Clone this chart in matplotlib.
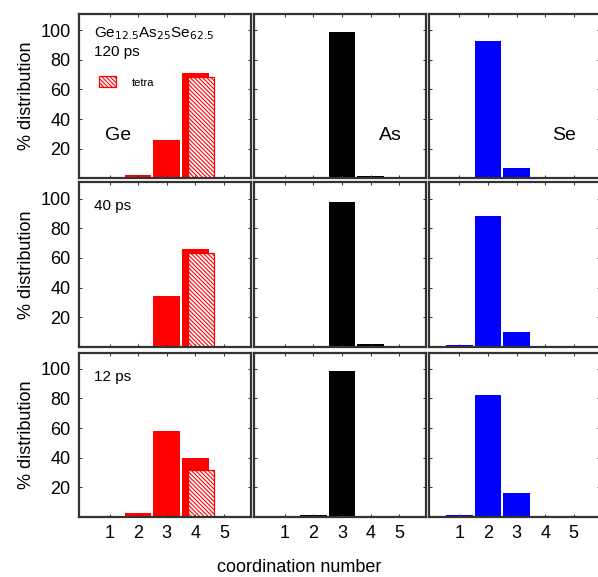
import matplotlib
matplotlib.use("Agg")
import matplotlib.pyplot as plt
from matplotlib.patches import Patch

plt.rcParams['font.family'] = ['Liberation Sans', 'DejaVu Sans']
plt.rcParams['hatch.linewidth'] = 0.8

coord = [1, 2, 3, 4, 5]
times = ["120 ps", "40 ps", "12 ps"]
species = ["Ge", "As", "Se"]
colors = ["#ff0000", "#000000", "#0000ff"]

# % distribution of coordination numbers, per time (rows) and species (cols)
ge_120 = [0, 2, 26, 71, 0]
as_120 = [0, 0, 98.5, 1.5, 0]
se_120 = [1, 92.5, 7, 0, 0]
ge_40 = [0, 0, 34, 66, 0]
as_40 = [0, 0, 97.5, 2, 0]
se_40 = [1.5, 88, 10, 0, 0]
ge_12 = [0, 2.5, 58, 39.5, 0]
as_12 = [0, 1.5, 98.5, 0, 0]
se_12 = [1.5, 82.5, 16, 0, 0]
# tetrahedral Ge fraction at coordination 4
tetra = [68.5, 63, 31.5]

data = [[ge_120, as_120, se_120],
        [ge_40, as_40, se_40],
        [ge_12, as_12, se_12]]

hatch = '\\' * 8

fig = plt.figure(figsize=(5.98, 5.77), dpi=100)

lefts = [0.132, 0.425, 0.717]
bottoms = [0.691, 0.399, 0.104]
w, h = 0.287, 0.285
time_y = [0.745, 0.83, 0.83]

for r in range(3):
    for c in range(3):
        ax = fig.add_axes([lefts[c], bottoms[r], w, h])
        ax.bar(coord, data[r][c], width=0.93, color=colors[c], edgecolor='none')
        if c == 0:
            ax.bar(4.2, tetra[r], width=0.88, facecolor='white', edgecolor='#ff0000',
                   hatch=hatch, linewidth=0.9)
        ax.set_xlim(-0.07, 5.93)
        ax.set_ylim(0, 111)
        ax.set_xticks(coord)
        ax.set_yticks([20, 40, 60, 80, 100])
        ax.tick_params(direction='in', length=2.5, width=0.7, top=True, right=True,
                       labelsize=13, colors='#333333', labelcolor='black', pad=6)
        for s in ax.spines.values():
            s.set_linewidth(1.6)
            s.set_color('#333333')
        if r < 2:
            ax.set_xticklabels([])
        if c > 0:
            ax.set_yticklabels([])
        else:
            ax.set_ylabel("% distribution", fontsize=13, labelpad=4)
            ax.text(0.09, time_y[r], times[r], transform=ax.transAxes, fontsize=11)
        if r == 0:
            if c == 0:
                ax.text(0.09, 0.86, "Ge$_{12.5}$As$_{25}$Se$_{62.5}$",
                        transform=ax.transAxes, fontsize=11)
                ax.legend(handles=[Patch(facecolor='white', edgecolor='#ff0000',
                                         hatch=hatch, linewidth=0.9)],
                          labels=["tetra"], loc='upper left',
                          bbox_to_anchor=(0.06, 0.68), frameon=False, fontsize=8,
                          handlelength=1.5, handleheight=1.1, handletextpad=1.4)
                ax.text(0.15, 0.23, "Ge", transform=ax.transAxes, fontsize=14)
            elif c == 1:
                ax.text(0.73, 0.23, "As", transform=ax.transAxes, fontsize=14)
            else:
                ax.text(0.72, 0.23, "Se", transform=ax.transAxes, fontsize=14)

fig.text(0.5, 0.008, "coordination number", ha='center', fontsize=13)

fig.savefig("out.png", dpi=100)
